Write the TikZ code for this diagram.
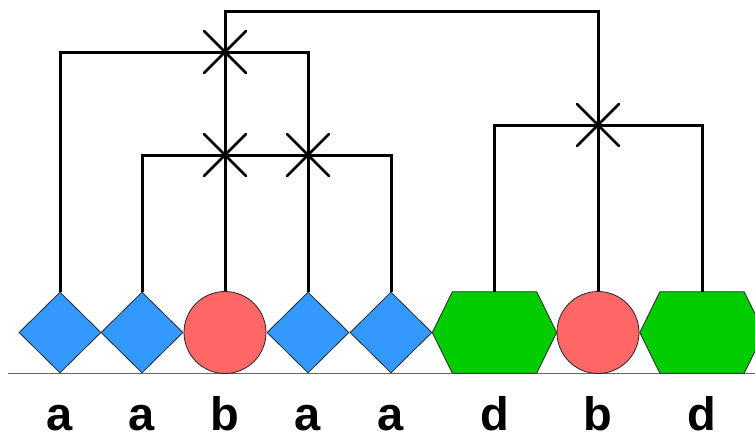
\documentclass[tikz,border=0pt]{standalone}
\usepackage{fontspec}
\setmainfont{Liberation Sans}
\usetikzlibrary{shapes.geometric}
\definecolor{blueA}{RGB}{51,153,255}
\definecolor{redB}{RGB}{255,102,102}
\definecolor{greenD}{RGB}{0,204,0}

\begin{document}
\begin{tikzpicture}[x=1pt,y=-1pt,
  link/.style={line width=3pt},
  cross/.style={line width=2.8pt, line cap=round},
  outline/.style={draw=black!85, line width=0.8pt},
  diam/.style={outline, diamond, fill=blueA, inner sep=0pt, minimum width=82pt, minimum height=81pt},
  disc/.style={outline, circle, fill=redB, inner sep=0pt, minimum size=82pt},
  hexa/.style={rectangle, inner sep=0pt, minimum width=84pt, minimum height=81pt},
  lbl/.style={anchor=base, inner sep=0pt, text depth=0pt, font=\fontsize{47}{50}\selectfont\bfseries}]
				\useasboundingbox (0,0) rectangle (755,434);

				% ground
				\draw[black!60, line width=1.2pt] (8,373.5) -- (755,373.5);

				% units
				\node[diam] (a1) at (60,332.5) {};
				\node[diam] (a2) at (142,332.5) {};
				\node[disc] (b1) at (225,332.5) {};
				\node[diam] (a3) at (308,332.5) {};
				\node[diam] (a4) at (391,332.5) {};
				\node[hexa] (d1) at (494.5,332.5) {};
				\node[disc] (b2) at (598,332.5) {};
				\node[hexa] (d2) at (702,332.5) {};
				\foreach \h in {d1,d2}
					\draw[outline, fill=greenD] (\h.north west) -- (\h.north east) -- ([xshift=20pt]\h.east)
						-- (\h.south east) -- (\h.south west) -- ([xshift=-20pt]\h.west) -- cycle;

				% joints
				\coordinate (x1) at (225,52);
				\coordinate (x2) at (225,155);
				\coordinate (x3) at (308,155);
				\coordinate (x4) at (598,125);
				\coordinate (top) at (411,11);

				\draw[link] (a1.north) |- (x1) -| (a3.north);
				\draw[link] (a2.north) |- (x2) -| (a4.north);
				\draw[link] (b1.north) |- (top) -| (b2.north);
				\draw[link] (d1.north) |- (x4) -| (d2.north);

				\foreach \c in {x1,x2,x3,x4} {
					\draw[cross] ([shift={(-21,-21)}]\c) -- ([shift={(21,21)}]\c);
					\draw[cross] ([shift={(-21,21)}]\c) -- ([shift={(21,-21)}]\c);
				}

				% labels
				\foreach \n/\t in {a1/a,a2/a,b1/b,a3/a,a4/a,d1/d,b2/b,d2/d}
					\node[lbl] (l\n) at (\n.center |- 0,430) {\t};
\end{tikzpicture}
\end{document}
